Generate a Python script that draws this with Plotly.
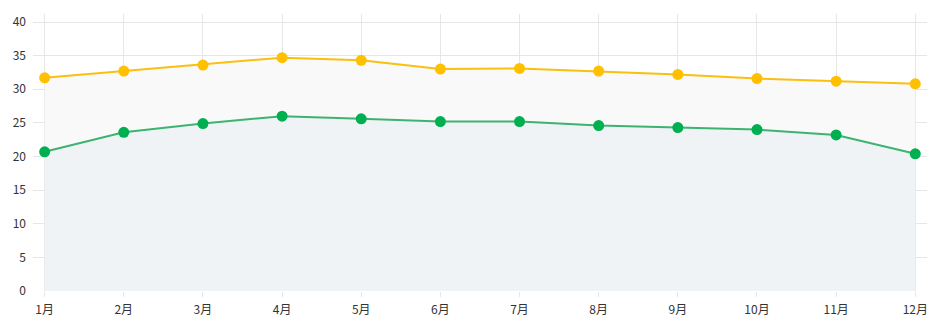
import plotly.graph_objects as go

months = ["1月", "2月", "3月", "4月", "5月", "6月", "7月", "8月", "9月", "10月", "11月", "12月"]
high_temp = [31.7, 32.7, 33.6, 34.7, 34.3, 33.0, 33.1, 32.7, 32.2, 31.6, 31.2, 30.8]
low_temp = [20.7, 23.6, 24.9, 26.0, 25.6, 25.2, 25.2, 24.6, 24.3, 24.0, 23.2, 20.4]
y_ticks = [0, 5, 10, 15, 20, 25, 30, 35, 40]

x_idx = list(range(len(months)))

fig = go.Figure()

fig.add_trace(go.Scatter(
    x=x_idx, y=low_temp, mode="lines+markers",
    line=dict(color="#3cb371", width=2),
    marker=dict(color="#00b050", size=11),
    fill="tozeroy", fillcolor="#f0f3f6",
    showlegend=False, name="最低气温",
))
fig.add_trace(go.Scatter(
    x=x_idx, y=high_temp, mode="lines+markers",
    line=dict(color="#fbbf0f", width=2),
    marker=dict(color="#ffc000", size=11),
    fill="tonexty", fillcolor="#f9f9f9",
    showlegend=False, name="最高气温",
))

fig.update_layout(
    width=938, height=323,
    margin=dict(l=33, r=11, t=14, b=32),
    paper_bgcolor="white", plot_bgcolor="white",
    font=dict(family="Noto Sans CJK SC, sans-serif", size=12, color="#333333"),
)

fig.update_xaxes(
    tickmode="array", tickvals=x_idx, ticktext=months,
    range=[-0.147, 11.148],
    showgrid=True, gridcolor="#e6e6e6", gridwidth=1,
    ticks="outside", ticklen=5, tickcolor="#e6e6e6",
    ticklabelstandoff=3, automargin=False,
    showline=False, zeroline=False,
    tickfont=dict(size=12, color="#333333"),
)
fig.update_yaxes(
    tickmode="array", tickvals=y_ticks,
    range=[0, 41.19],
    showgrid=True, gridcolor="#e6e6e6", gridwidth=1,
    showline=False, zeroline=False,
    ticks="", ticklabelstandoff=6, automargin=False,
    tickfont=dict(size=12, color="#333333"),
)

fig.write_html("out.html")
